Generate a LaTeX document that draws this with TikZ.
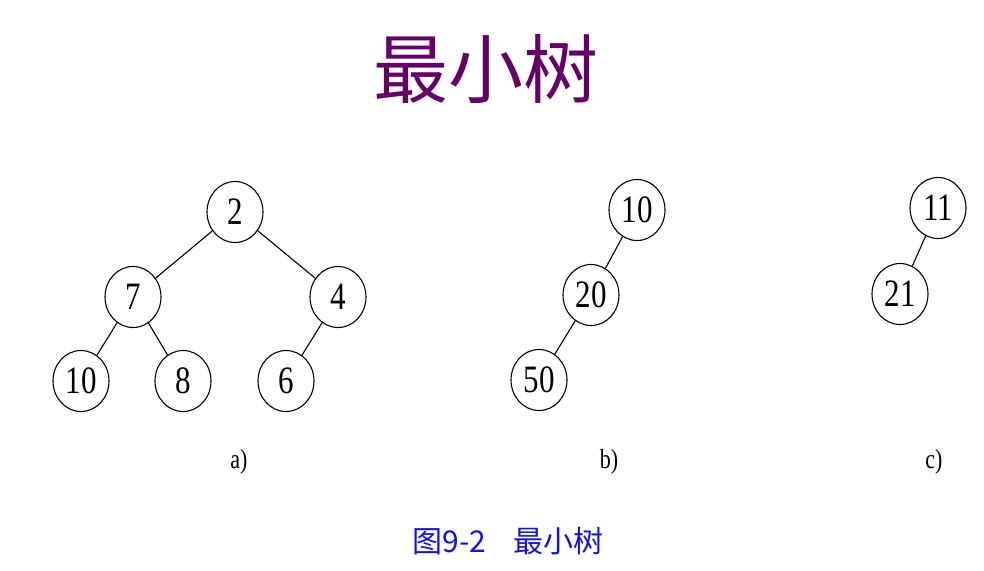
\documentclass[tikz,border=0pt]{standalone}
\usepackage{fontspec}
\setmainfont{Liberation Serif}
\newfontfamily\cjk{Noto Sans CJK SC}
\usetikzlibrary{shapes.geometric}
\definecolor{titlepurple}{HTML}{660066}
\definecolor{capblue}{HTML}{1010F0}
\tikzset{
  tnode/.style={draw, ellipse, line width=1.1pt, minimum width=56pt, minimum height=61pt, inner sep=0pt,
    font=\fontsize{31}{31}\selectfont},
  tedge/.style={line width=1.1pt},
  sublabel/.style={font=\fontsize{22}{22}\selectfont, inner sep=0pt},
}
\newcommand{\tall}[1]{\scalebox{1}[1.25]{#1}}
\begin{document}
\begin{tikzpicture}[x=1pt,y=-1pt]
\useasboundingbox (0,0) rectangle (984,570);
\node[text=titlepurple, font=\cjk\fontsize{75}{75}\selectfont, inner sep=0pt] (title) at (486,69) {最小树};
% a)
\node[tnode] (a2) at (235,212) {\tall{2}};
\node[tnode] (a7) at (133,297) {\tall{7}};
\node[tnode] (a4) at (338,297) {\tall{4}};
\node[tnode] (a10) at (81,381) {\tall{10}};
\node[tnode] (a8) at (183,381) {\tall{8}};
\node[tnode] (a6) at (286,381) {\tall{6}};
\draw[tedge] (a2) -- (a7);
\draw[tedge] (a2) -- (a4);
\draw[tedge] (a7) -- (a10);
\draw[tedge] (a7) -- (a8);
\draw[tedge] (a4) -- (a6);
% b)
\node[tnode] (b10) at (637,210) {\tall{10}};
\node[tnode] (b20) at (591,295) {\tall{20}};
\node[tnode] (b50) at (539,380) {\tall{50}};
\draw[tedge] (b10) -- (b20);
\draw[tedge] (b20) -- (b50);
% c)
\node[tnode] (c11) at (938,208) {\tall{11}};
\node[tnode] (c21) at (900,294) {\tall{21}};
\draw[tedge] (c11) -- (c21);
% labels
\node[sublabel] (la) at (239,462) {\tall{a)}};
\node[sublabel] (lb) at (609,462) {\tall{b)}};
\node[sublabel] (lc) at (934,462) {\tall{c)}};
\node[text=capblue, font=\cjk\fontsize{30}{30}\selectfont, inner sep=0pt] (cap) at (508,541) {图9-2\hspace{0.9em}最小树};
\end{tikzpicture}
\end{document}
